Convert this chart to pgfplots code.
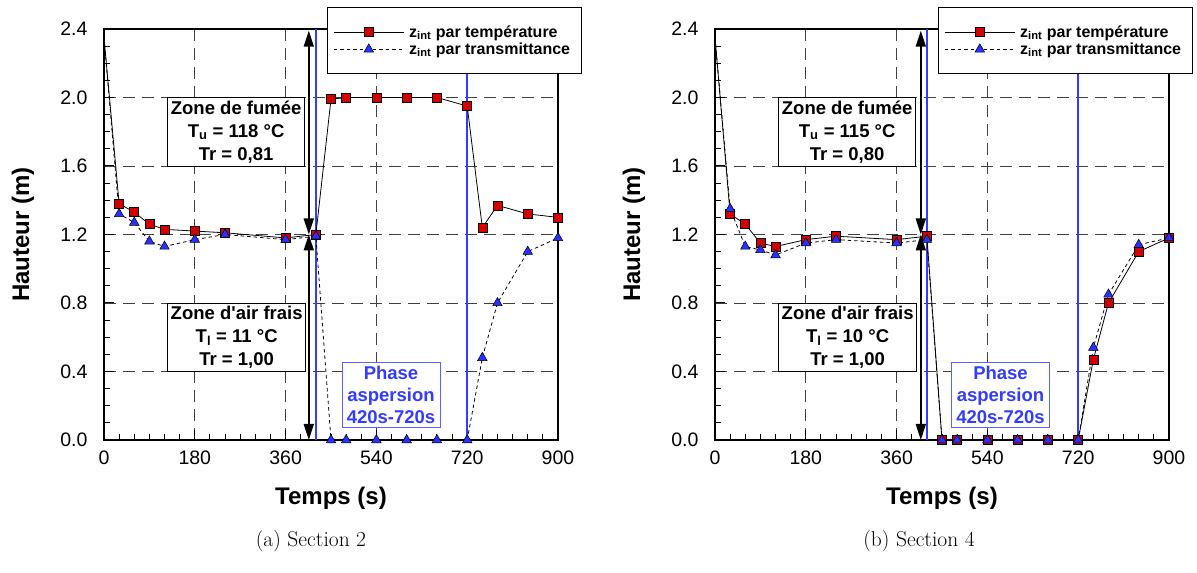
\documentclass[border=0pt]{standalone}
\usepackage{pgfplots}
\pgfplotsset{compat=1.18}
\usepackage{fontspec}
\newfontfamily\arial{Liberation Sans}
\usetikzlibrary{arrows.meta}
\definecolor{mred}{RGB}{210,0,0}
\definecolor{mblue}{RGB}{40,50,255}
\definecolor{lblue}{RGB}{50,60,255}

\pgfplotsset{myax/.style={
  scale only axis, width=454pt, height=411pt,
  xmin=0, xmax=900, ymin=0, ymax=2.4,
  xtick={0,180,...,900}, ytick={0,0.4,...,2.4},
  minor x tick num=5, minor y tick num=3,
  tick align=inside, tick pos=left,
  major tick length=10pt, minor tick length=6pt,
  grid=major,
  major grid style={black!75, line width=0.9pt, dash pattern=on 12pt off 7pt},
  axis line style={line width=1.6pt},
  every tick/.style={black, line width=1pt},
  /pgf/number format/assume math mode=true,
  yticklabel style={/pgf/number format/fixed, /pgf/number format/fixed zerofill, /pgf/number format/precision=1},
  tick label style={font=\arial\fontsize{19.5}{19.5}\selectfont},
  xticklabel style={yshift=-7pt},
  yticklabel style={xshift=-13pt},
  xlabel={Temps (s)}, ylabel={Hauteur (m)},
  label style={font=\arial\bfseries\fontsize{24}{24}\selectfont},
  xlabel style={at={(axis description cs:0.5,0)}, anchor=center, yshift=-58pt},
  ylabel style={at={(axis description cs:0,0.5)}, anchor=center, yshift=81pt},
  legend style={at={(rel axis cs:0.491,1)}, anchor=north west, yshift=22pt,
    draw=black, line width=1pt, fill=white, font=\arial\bfseries\fontsize{16}{17}\selectfont,
    cells={anchor=west}, inner xsep=6pt, inner ysep=17pt, row sep=2pt,
    nodes={inner ysep=1pt, inner xsep=5pt}},
  legend image code/.code={\draw[#1, mark indices={2}] plot coordinates {(0pt,0pt) (35pt,0pt) (70pt,0pt)};},
  mark indices={2,...,19},
}}
\pgfplotsset{
 temp/.style={black, line width=0.8pt, solid, mark=square*, mark size=4.5pt, mark options={fill=mred, draw=black, line width=0.6pt, solid}},
 trans/.style={black, line width=0.8pt, dash pattern=on 3.5pt off 3pt, mark=triangle*, mark size=5.5pt, mark options={fill=mblue, draw=black, line width=0.5pt, solid}},
}
\tikzset{
 boxtxt/.style={draw=black, line width=0.8pt, fill=white, align=center, font=\arial\bfseries\fontsize{18.5}{23}\selectfont, inner sep=3pt, minimum width=136pt, minimum height=67pt},
 phasebox/.style={draw=lblue!80, line width=0.8pt, fill=white, align=center, text=lblue, font=\arial\bfseries\fontsize{18.5}{22}\selectfont, inner sep=2pt, minimum width=98pt, minimum height=65pt},
 dbl/.style={line width=1.6pt, {Triangle[length=16pt,width=10pt]}-{Triangle[length=16pt,width=10pt]}},
}

\begin{document}
\begin{tikzpicture}
\useasboundingbox (0,0) rectangle (1197pt,573pt);

% ---------------- (a) ----------------
\begin{axis}[myax, at={(104pt,133pt)}, anchor=south west]
\addplot[lblue, line width=1.8pt, no marks, forget plot] coordinates {(420,0) (420,2.4)};
\addplot[lblue, line width=1.8pt, no marks, forget plot] coordinates {(720,0) (720,2.4)};
\addplot[temp] coordinates {(0,2.35)(30,1.38)(60,1.33)(90,1.26)(120,1.23)(180,1.22)(240,1.21)(360,1.18)(420,1.20)(450,1.99)(480,2.0)(540,2.0)(600,2.0)(660,2.0)(720,1.95)(750,1.24)(780,1.37)(840,1.32)(900,1.30)};
\addlegendentry{z\textsubscript{int} par température}
\addplot[trans] coordinates {(0,2.35)(30,1.32)(60,1.27)(90,1.16)(120,1.13)(180,1.17)(240,1.20)(360,1.17)(420,1.19)(450,0)(480,0)(540,0)(600,0)(660,0)(720,0)(750,0.48)(780,0.80)(840,1.10)(900,1.18)};
\addlegendentry{z\textsubscript{int} par transmittance}
\draw[dbl] (axis cs:406,2.39) -- (axis cs:406,1.2);
\draw[dbl] (axis cs:406,1.2) -- (axis cs:406,0);
\node[boxtxt] at (axis cs:262,1.8) {Zone de fumée\\T\textsubscript{u} = 118 °C\\Tr = 0,81};
\node[boxtxt] at (axis cs:263,0.6) {Zone d'air frais\\T\textsubscript{l} = 11 °C\\Tr = 1,00};
\node[phasebox] at (axis cs:569,0.265) {Phase\\aspersion\\420s-720s};
\end{axis}

% ---------------- (b) ----------------
\begin{axis}[myax, at={(715pt,133pt)}, anchor=south west]
\addplot[lblue, line width=1.8pt, no marks, forget plot] coordinates {(420,0) (420,2.4)};
\addplot[lblue, line width=1.8pt, no marks, forget plot] coordinates {(720,0) (720,2.4)};
\addplot[temp] coordinates {(0,2.35)(30,1.32)(60,1.26)(90,1.15)(120,1.13)(180,1.17)(240,1.19)(360,1.17)(420,1.19)(450,0)(480,0)(540,0)(600,0)(660,0)(720,0)(750,0.47)(780,0.80)(840,1.10)(900,1.18)};
\addlegendentry{z\textsubscript{int} par température}
\addplot[trans] coordinates {(0,2.35)(30,1.35)(60,1.13)(90,1.11)(120,1.08)(180,1.15)(240,1.17)(360,1.15)(420,1.17)(450,0)(480,0)(540,0)(600,0)(660,0)(720,0)(750,0.54)(780,0.85)(840,1.14)(900,1.18)};
\addlegendentry{z\textsubscript{int} par transmittance}
\draw[dbl] (axis cs:408,2.39) -- (axis cs:408,1.2);
\draw[dbl] (axis cs:408,1.2) -- (axis cs:408,0);
\node[boxtxt] at (axis cs:262,1.8) {Zone de fumée\\T\textsubscript{u} = 115 °C\\Tr = 0,80};
\node[boxtxt] at (axis cs:263,0.6) {Zone d'air frais\\T\textsubscript{l} = 10 °C\\Tr = 1,00};
\node[phasebox] at (axis cs:566,0.265) {Phase\\aspersion\\420s-720s};
\end{axis}

\node[font=\fontsize{21.5}{21.5}\selectfont] at (311pt,32pt) {(a) Section 2};
\node[font=\fontsize{21.5}{21.5}\selectfont] at (919pt,32pt) {(b) Section 4};
\end{tikzpicture}
\end{document}
